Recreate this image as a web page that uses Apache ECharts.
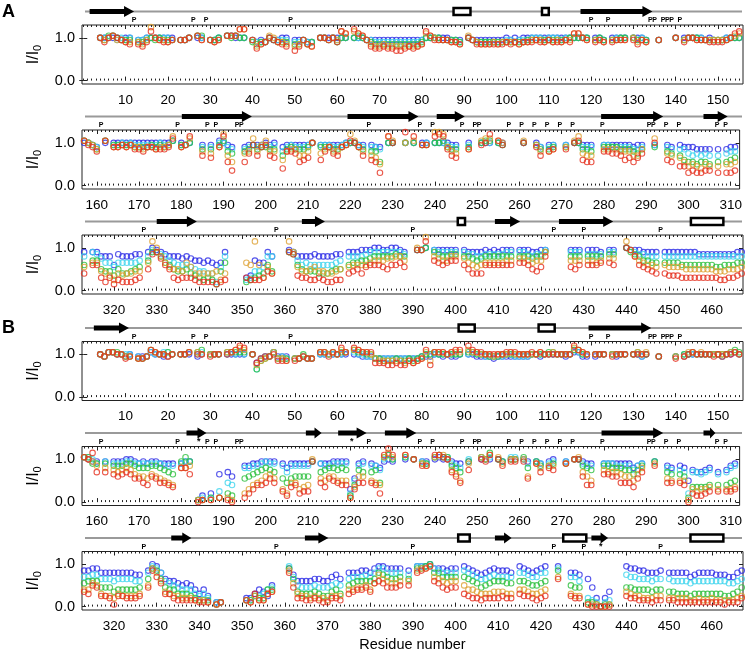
<!DOCTYPE html>
<html><head><meta charset="utf-8">
<script src="https://cdn.jsdelivr.net/npm/echarts@6/dist/echarts.min.js"></script>
<style>html,body{margin:0;padding:0;background:#fff}#c{width:745px;height:653px}</style>
</head><body><div id="c"></div>
<script>
// I/I0 values per residue (residue 1..467).
// Encoding: one letter per residue, 'a'=0.00, each next letter +0.05 ('u'=1.00, 'z'=1.25); '.' = no data.
// Blocks of 10 residues separated by spaces (block 1 = residues 1-10, ...).
const A_blue = "...uuuuutu u.ttuuuuuu u.ttu.uu.t tu.vvuuu.t stsuttuu.t ttss.uuuuu uu.uuutttt tttttttttt uuuuuuttt. uttttttttu tutuuuuuuu uuuuuuuuu. uut.uuuu.u uut..t...u .uuuuututt tuuuu.uuts .u.uuuuuuu uuuuuuuv.u tu..t.t.vu ts..sttttu tu.stttttt u.ttttttuu utt.tss.uu ..u.u.uu.u uuutt..u.. uuu.uu.... u..us.tt.. t.uuttt..t ttttttstt. .t..ts.tss srrrr.r.rs s.s.ssqqqm rqqqrr.sut srqqqpqpoo nonmns.... ghonnsq... tsqqqqrqqq qrr.sssttt uuttuuts.. ttu.tttttt .tsssststs ttt.tttsst t.....ttt. ttts.tt..u tttssss.ss ssssssrrrr rrrrrss";
const A_cyan = "...uuuvtut u.ttuuuuuu t.ttu.vu.t tu.vvvuu.t sssutttt.s stss.uutut uu.uuuttss ssssssssst uuuutttts. utssssssst tstttuuutu uutuuuuuu. tut.tuuu.u tut..t...u .tuuuutttt tuuuu.vuts .v.ttututt ttttuttv.t tu..s.s.uu sr..rststt st.qstssst u.tttsstuu uts.ssr.uu ..u.u.tu.u uutss..t.. uuu.ut.... u..ts.st.. t.uusss..t tsssssrrs. .t..sr.rrp opopo.o.pq q.q.srpnnl nnnnno.qts rqonmmmlkj jiielq.... fgjjlqq... ssomnmmmmm mno.qqqqrs sssssssr.. ttu.tsssss .srrqqrrrr rss.ssrqrr t.....sss. rrrr.ss..u tsrrqqq.qq qqqqqqqqqq qqqqqqq";
const A_green = "...utvvutt t.sstututt t.ttu.vv.t tu.vuvuu.s rssutsss.r rtrs.uutus uu.uvutsrr rrrrrrrrrs uuuutttts. utssssssss sssstttttt ttttuuuuu. tut.ttuu.u ttt..t...u .tuuuttttt ttuuu.vutr .v.tttttss sstststv.t tu..r.r.tv qp..qrtrss rr.orsrrrs u.sssrrstu usr.qql.uu ..u.u.tt.u uvsrr..s.. uvv.ut.... u..tr.rs.. s.uurrq..s sssrrrqpr. .s..qp.oml lkllk.l.lm n.m.ookjjh kiijkl.oss qnmkjjkihg fgfdjn.... efghimj... srmkjjjiii jkk.mnnoop qqqqqrqq.. ttu.srqqrr .qqpopqqqq qqq.qqqpqq s.....qqq. qqqq.rr..u srqoonn.nn nnmmmmmmmm llmmmnn";
const A_orange = "...utuvtts s.srtzutts t.ttu.vt.t st.vvvyy.t qrsvussr.q rtrq.uutut xw.xwvtrqq rqqqqqqqqr wvutttssr. vtsrrrsrss ssrsstttst ststtwwut. tts.tttt.u sts..t...u .tuutttttt ttuvw.vutr .v.sststss rssrsstx.s tw..q.p.sy ol..pqwqtv qq.mqrrooq u.prsqqsty vsq.onk.xv ..u.v.tt.z zysqp..r.. vww.vu.... v..tq.qr.. s.vxpoo..r rrrqqqoor. .w..po.nlj kjikj.j.kk l.l.nnjihf ihiijj.nxu qnlkkjnlii iiijfi.... nmxmgli... xsljjkljji ijk.lmmmmn oooppqqo.. utz.qpooqq .pnmlmnnnn noo.pponoo s.....ooo. oono.pp..x tqonmml.ml lllkkkkkkk jjjkkkl";
const A_red = "...usuvuts r.rqsxutss t.ttu.vt.t st.vvvyy.t prsutsrq.o qtrq.uutus xw.ywvtqpp qppoopqpqr xvttttssr. utrrrrrrrs rsrssstsst ssstswwut. sts.sttt.t rts..t...u .suutttsss stuwx.vtsq .v.sststrr qssrrrsw.s tx..o.n.sx lh..lptost on.iqqplmn u.mqspostv uso.mlg.xu ..z.x.tt.x yxron..r.. tuy.vt.... u..so.qr.. r.uvmll..q qppomnlnp. .u..ml.jjg hgghh.g.gg h.i.mmgegd feeefg.krs pmkgfgggfe eeedef.... gfffgji... srhggffgfe eff.ijkilm mmlkmmnl.. ttx.onmnoo .mkiiimmmm mmm.nnmkjl q.....lkm. mmmn.nm..u tqmlkji.ih hhgggggggg gffgghi";

const B_blue = "...utvvuut u.tttvuutt u.uuu.tu.u uu.uuuuu.u qsttvttt.s stss.uuuuu uu.uutttss ssssssssst ttuututtu. uuttttsttt tttttuutuu uuutuvvtt. tuu.utuu.u utu..t...t .tuuuuuuuu tuuvu.vutt .t.tttuuts tsttssss.s tt.bd.e.n. om..rrsstt tt.sqsssss t.sssttttg lst.srqtut ..u.u.tt.u vuutss.t.. uuu.ut.uu. ut.ts.tu.. t.uutss..s ssssssqrs. .t..rq.rqk poopq.o.pr s.rrssqqqq qqqqpp.rut qnmmlklkig if.cc..... eegihfk... spmmmmnnmm opn.qqqrrq sttssss.r. tttusssrss .tsrqpqrsr rrq.tsrqrs t..t..qqp. njeaeh...t ssrrqqqr.q qqqqopqqqq pppooqr";
const B_cyan = "...utvvuuu u.tstvuuvv u.uuv.uv.u uu.uvuvu.u nsttvsts.s stss.uuuuu uv.vuuttss ssssssssst uuuuuuuuu. uvuutttttu uttttuuuuu uuuuuwvuu. uuu.uuuu.u utu..t...t .uuuuuuuuu tuvvu.vvus .t.sssttss sssssrrr.s tt.bc.c.f. ji..qqrrst ss.rorrrrr t.srrsssse krs.rrpuwu ..v.u.ts.v wvvsrq.u.. vuv.ut.vv. us.ts.st.. t.uusrr..s ssrrrrprs. .t..qp.poe oonop.n.oq r.ooppnnnm nnnnmm.qts qmlkjiiigf ge.cc..... ddffgij... tokjjjkjjj klk.nooopo qssqqqq.p. tttusrqqqq .rqponnopo ooo.qqpooq q..s..oom. edcacd...p oonnnmnn.n mmmmlmmmmm mmmllmn";
const B_green = "...utvvvut t.sstwvuuv u.uuv.vw.u uu.vvvvv.u nrstvsss.s suss.vvuvu vv.wvvuuss rrrsrrsrst uuvuuuuuu. vvuuutttuu uuuuuuuuuv vuuuuwwuu. uuu.uuuu.u vuu..t...t .uuvuuuuuu uuvwv.vvss .s.rrrssrq qqrrqpon.t vt.bb.c.c. ed..lmnopq po.ljlmmmm t.opqqpqpd ipo.opjvwu ..v.u.ss.v wvvrqo.t.. vux.ut.uu. vq.tr.rs.. s.uurqp..r rqqqppnpr. .t..on.nmc hhhhi.i.ij k.lmmmjjjh iiiiij.nsr njiigggfed dd.bc..... ddfeeii... snhggghgff hig.klmmmm nqponno.n. sstuqqoooo .onmljklmm mll.mmlkkl m..r..kjj. ccbabb...j jiiiihii.h hgggfggggg ggffghj";
const B_orange = "...utvvuut t.sstwvuut u.uuv.vu.u uu.vvwxw.u prstvssr.s stss.vvuvu wv.wwvvusr rrrrrqrqrs vrvvvuvvv. wvvuuutuuu vuuuuuuvuu vuuuuxwvu. uuu.uuuu.u vuv..t...t .tvvuvuuuu uuvvu.vutr .q.popqpnm mlnmlkji.q qr.bb.b.c. cb..egijkm nl.gejjghi u.lkmmkkkc hmm.kjivxv ..w.u.sr.v wwupnk.s.. vuw.vs.uu. um.sq.rr.. s.uvomk..p ooonmmknq. .s..lk.kkb gfggh.g.gg h.iilkgffe gffffg.ksq mhgffeeedd dc.bc..... dcfddgh... rlgffefeed fff.iijjki lpnmllm.m. rsstonmlmm .kiihggghh hgg.iihggh i..o..gff. bbbaab...h gffeeeff.e eeeeddedde dddddef";
const B_red = "...utvvuus t.sstwvuut u.uuv.uu.t uu.uvwyx.u qstturrr.r stss.vvtvu xv.xwvvvqq qppqpprqrs wpvvvuvww. ywvvuuuuuv vvuuuvuvuu uuuuuywvu. uuu.tuuu.u uuu..t...s .tuvuuuutu tuuvu.vuxo .o.nmnonll jimljjih.q qn.ab.b.c. ba..cegiij lj.fdhieff t.jhlkjiic gjj.jiewzw ..w.u.rr.w wvuomj.p.. utw.ur.tt. tl.so.qp.. s.uumii..n nmmjjjhlo. .r..jj.jia eddef.f.ff g.hgkjffeb ffeeef.jro lggedddddc cc.bc..... dcgddgh... qjeeddedcc eed.ghiijh lmljjjk.k. qrstmljijj .gfeedeeee fee.gffede f..n..fee. baaaaa...f eedddcdd.d dccccccccc ccbccce";

// tick labels of each row
const xTicksRow1 = [10,20,30,40,50,60,70,80,90,100,110,120,130,140,150];
const xTicksRow2 = [160,170,180,190,200,210,220,230,240,250,260,270,280,290,300,310];
const xTicksRow3 = [320,330,340,350,360,370,380,390,400,410,420,430,440,450,460];
const yTicks = [0, 1];

// residue extent of each row
const rowRanges = [[-0.3, 155.9], [156.5, 312.1], [312.5, 467.3]];

// prolines (P) and asterisks
const prolines = [12,26,29,49,120,124,134,135,137,138,139,141,161,179,186,188,193,194,224,236,239,246,249,250,257,260,263,266,269,272,279,290,291,294,297,306,308,327,358,390,423,430,448];
const starsB = [184, 220, 434];

// secondary structure: [kind (1 = strand, 2 = helix), start residue, end residue]
const ssA = [[1,1.5,12],[2,87.5,91.5],[2,108.4,110],[1,117.5,134.5],[1,180,196.5],[1,219,235.7],[1,240,246.6],[1,278.7,293.3],[1,302.8,308.5],[1,330,339.4],[1,364,369.4],[2,400.5,402.2],[1,409.2,415.1],[1,424.2,436.9],[2,455.1,462.7]];
const ssB = [[1,2.5,10.8],[2,88.7,92.5],[2,107.6,111.4],[1,119.4,134.2],[1,181.1,185.8],[1,209.2,212.9],[1,216.8,223.5],[1,227.8,235.2],[1,278.8,293.3],[1,302.8,305.6],[1,333.4,338.1],[1,364.7,370.2],[2,400.6,403.3],[1,409.2,413.1],[2,425.2,430.6],[1,431.8,435.7],[2,455,462.7]];

const seriesNames = ['blue','cyan','green','orange','red'];
const COLORS = ['#2a2ae6','#3fd4ee','#2cbf3c','#dda032','#e5301e'];
const FONT = 'Liberation Sans, Arial, Helvetica, sans-serif';

function decode(str) {
  const out = [];
  str.trim().split(/\s+/).forEach(b => {
    for (let k = 0; k < 10; k++) {
      const ch = b[k] || '.';
      out.push(ch === '.' ? null : Math.round((ch.charCodeAt(0) - 97) * 5) / 100);
    }
  });
  return out.slice(0, 467);
}

const panels = [
  {series: [A_blue, A_cyan, A_green, A_orange, A_red].map(decode), ss: ssA, stars: []},
  {series: [B_blue, B_cyan, B_green, B_orange, B_red].map(decode), ss: ssB, stars: starsB}
];
const rowTicks = [xTicksRow1, xTicksRow2, xTicksRow3];
const plotTops = [25, 130, 235, 341.5, 446.5, 551.5];
const PLOT_H = 59, LEFT = 82, WIDTH = 661;

function ssRender(params, api) {
  const cs = params.coordSys;
  const kind = api.value(0);
  const yl = cs.y + cs.height - 13.5;
  if (kind === 0) {
    return {type: 'line', shape: {x1: cs.x + 3, y1: yl, x2: cs.x + cs.width - 1, y2: yl},
      style: {stroke: '#9a9a9a', lineWidth: 2}};
  }
  const x1 = api.coord([api.value(1), 0.5])[0];
  const x2 = api.coord([api.value(2), 0.5])[0];
  if (kind === 1) {
    const hl = Math.min(10, (x2 - x1) * 0.45);
    return {type: 'polygon', shape: {points: [[x1, yl - 2.5], [x2 - hl, yl - 2.5], [x2 - hl, yl - 5.5], [x2, yl], [x2 - hl, yl + 5.5], [x2 - hl, yl + 2.5], [x1, yl + 2.5]]},
      style: {fill: '#000'}};
  }
  if (kind === 2) {
    return {type: 'rect', shape: {x: x1, y: yl - 3.5, width: x2 - x1, height: 7},
      style: {fill: '#fff', stroke: '#000', lineWidth: 2.5}};
  }
  return {type: 'text', style: {text: kind === 3 ? 'P' : '*', x: x1, y: cs.y + cs.height - 4.5,
    fill: '#000', fontSize: kind === 3 ? 7 : 9, fontWeight: 'bold', fontFamily: FONT, align: 'center', verticalAlign: 'middle'}};
}

const grid = [], xAxis = [], yAxis = [], series = [];
panels.forEach((panel, p) => {
  for (let r = 0; r < 3; r++) {
    const top = plotTops[p * 3 + r];
    const range = rowRanges[r];
    const ints = [];
    for (let v = Math.ceil(range[0]); v <= range[1]; v++) ints.push(v);
    const ticks = rowTicks[r];
    const isLast = (p === 1 && r === 2);
    // plot grid
    grid.push({left: LEFT, width: WIDTH, top: top, height: PLOT_H, show: true, borderColor: '#222', borderWidth: 1, backgroundColor: 'transparent'});
    const gi = grid.length - 1;
    const xi = xAxis.length;
    const mkX = (pos, tv, len, withLabels, extra) => Object.assign({
      gridIndex: gi, type: 'value', min: range[0], max: range[1], position: pos,
      axisLine: {show: false}, splitLine: {show: false},
      axisTick: {show: true, inside: true, length: len, customValues: tv, lineStyle: {color: '#222', width: 1}},
      axisLabel: withLabels ? {show: true, customValues: tv, fontSize: 13.5, color: '#000', fontFamily: FONT, margin: 9} : {show: false}
    }, extra || {});
    xAxis.push(mkX('bottom', ticks, 4, true, isLast ? {name: 'Residue number', nameLocation: 'middle', nameGap: 27,
      nameTextStyle: {fontSize: 14.5, color: '#000', fontFamily: FONT}} : {}));
    xAxis.push(mkX('bottom', ints, 2, false));
    xAxis.push(mkX('top', ticks, 4, false));
    xAxis.push(mkX('top', ints, 2, false));
    const yi = yAxis.length;
    yAxis.push({gridIndex: gi, type: 'value', min: -0.08, max: 1.3, position: 'left',
      axisLine: {show: false}, splitLine: {show: false},
      axisTick: {inside: true, length: 4, customValues: yTicks, lineStyle: {color: '#222'}},
      axisLabel: {customValues: yTicks, formatter: v => Number(v).toFixed(1), fontSize: 14.5, color: '#000', margin: 7, fontFamily: FONT},
      name: '{i|I/I}{s|0}', nameLocation: 'middle', nameGap: 38, nameRotate: 90,
      nameTextStyle: {fontFamily: FONT, color: '#000', rich: {
        i: {fontSize: 16, lineHeight: 18, verticalAlign: 'top', fontFamily: FONT, color: '#000'},
        s: {fontSize: 11, lineHeight: 12, padding: [10, 0, 0, 0], verticalAlign: 'bottom', fontFamily: FONT, color: '#000'}}}});
    yAxis.push({gridIndex: gi, type: 'value', min: -0.08, max: 1.3, position: 'right',
      axisLine: {show: false}, splitLine: {show: false},
      axisTick: {inside: true, length: 4, customValues: yTicks, lineStyle: {color: '#222'}},
      axisLabel: {show: false}});
    panel.series.forEach((vals, s) => {
      const data = [];
      vals.forEach((v, i) => {
        const res = i + 1;
        if (v !== null && res >= range[0] && res <= range[1]) data.push([res, v]);
      });
      series.push({type: 'scatter', name: seriesNames[s], xAxisIndex: xi, yAxisIndex: yi, data: data,
        symbol: 'circle', symbolSize: 5.5, silent: true,
        itemStyle: {color: 'rgba(0,0,0,0)', borderColor: COLORS[s], borderWidth: 1.1}});
    });
    // secondary-structure track grid
    grid.push({left: LEFT, width: WIDTH, top: top - 24, height: 24, show: false});
    const sgi = grid.length - 1;
    const sxi = xAxis.length;
    xAxis.push({gridIndex: sgi, type: 'value', min: range[0], max: range[1], show: false});
    const syi = yAxis.length;
    yAxis.push({gridIndex: sgi, type: 'value', min: 0, max: 1, show: false});
    const inRow = x => x >= range[0] && x <= range[1];
    const ssData = [[0, range[0], range[1]]];
    panel.ss.forEach(e => { if (inRow((e[1] + e[2]) / 2)) ssData.push([e[0], e[1], e[2]]); });
    prolines.forEach(v => { if (inRow(v)) ssData.push([3, v, v]); });
    panel.stars.forEach(v => { if (inRow(v)) ssData.push([4, v, v]); });
    series.push({type: 'custom', xAxisIndex: sxi, yAxisIndex: syi, data: ssData, renderItem: ssRender, silent: true, clip: false});
  }
});

const chart = echarts.init(document.getElementById('c'), null, {renderer: 'canvas'});
chart.setOption({
  animation: false,
  backgroundColor: '#fff',
  title: [
    {text: 'A', left: 2, top: 3, padding: 0, textStyle: {fontSize: 18, fontWeight: 'bold', fontFamily: FONT, color: '#000'}},
    {text: 'B', left: 2, top: 319, padding: 0, textStyle: {fontSize: 18, fontWeight: 'bold', fontFamily: FONT, color: '#000'}}
  ],
  grid: grid, xAxis: xAxis, yAxis: yAxis, series: series
});
</script>
</body></html>
